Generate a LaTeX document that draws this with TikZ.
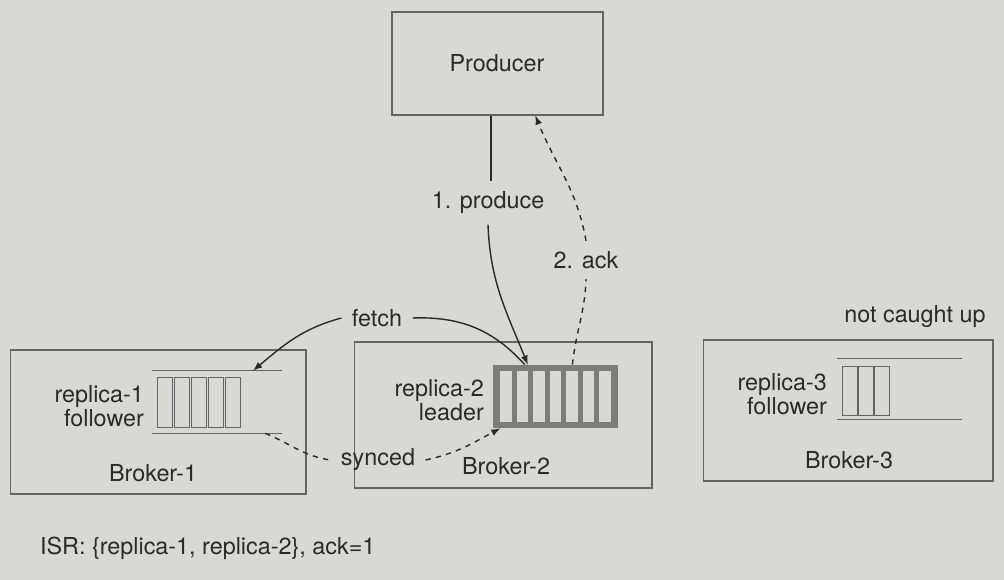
\documentclass[tikz,border=0pt]{standalone}
\usepackage{fontspec}
\setmainfont{TeX Gyre Heros}
\usepackage{tikz}
\usepackage{xcolor}
\definecolor{paper}{RGB}{216,216,212}
\definecolor{ink}{RGB}{42,42,42}
\definecolor{boxgray}{RGB}{100,100,100}
\definecolor{leadgray}{RGB}{124,124,121}
\tikzset{
  broker/.style={draw=boxgray, line width=0.6pt, inner sep=0pt},
  cell/.style={draw=boxgray, line width=0.6pt, inner sep=0pt, minimum width=0.3cm},
  txt/.style={text=ink, inner sep=1pt, font=\fontsize{13.3}{14}\selectfont},
  tag/.style={txt, outer sep=5pt},
  link/.style={draw=ink, line width=0.8pt}
}

\begin{document}
\begin{tikzpicture}[x=0.02cm, y=-0.02cm]
\useasboundingbox[fill=paper] (0,0) rectangle (1004,580);

% Producer and the three brokers
\node[broker, minimum width=4.22cm, minimum height=2.06cm] (prod) at (497.5,63.5) {};
\node[broker, minimum width=5.92cm, minimum height=2.88cm] (b1) at (158,422) {};
\node[broker, minimum width=5.96cm, minimum height=2.92cm] (b2) at (503,415) {};
\node[broker, minimum width=5.80cm, minimum height=2.82cm] (b3) at (848,410.5) {};

\node[txt] (prodlab) at (497,63) {Producer};
\node[txt] (b1lab) at (153,473) {Broker-1};
\node[txt] (b2lab) at (506,466) {Broker-2};
\node[txt] (b3lab) at (849,460) {Broker-3};

% Follower queue of replica-1
\node[inner sep=0pt, minimum width=2.6cm, minimum height=1.24cm] (r1q) at (217,402) {};
\draw[boxgray, line width=0.6pt] (r1q.north west) -- (r1q.north east);
\draw[boxgray, line width=0.6pt] (r1q.south west) -- (r1q.south east);
\foreach \i/\x in {1/157, 2/174, 3/191, 4/208, 5/225} {
    \node[cell, anchor=north west, minimum height=1cm] (ra\i) at (\x,377) {};
}
\node[txt, anchor=east, align=right] (r1lab) at (146,406) {replica-1\\follower};

% Leader queue of replica-2
\node[fill=leadgray, inner sep=0pt, minimum width=2.5cm, minimum height=1.26cm] (lead) at (555.5,396.5) {};
\foreach \i in {1,...,7} {
    \node[fill=paper, inner sep=0pt, anchor=north west, minimum width=0.23cm, minimum height=1.02cm] (rb\i) at ({500+16.5*(\i-1)},371) {};
}
\node[txt, anchor=east, align=right] (r2lab) at (486,400) {replica-2\\leader};

% Follower queue of replica-3
\node[inner sep=0pt, minimum width=2.5cm, minimum height=1.2cm] (r3q) at (899.5,389) {};
\draw[boxgray, line width=0.6pt] (r3q.north west) -- (r3q.north east);
\draw[boxgray, line width=0.6pt] (r3q.south west) -- (r3q.south east);
\foreach \i/\x in {1/842, 2/858, 3/874} {
    \node[cell, anchor=north west, minimum height=0.98cm] (rc\i) at (\x,366) {};
}
\node[txt, anchor=east, align=right] (r3lab) at (829,394) {replica-3\\follower};
\node[txt] (lag) at (915,317) {not caught up};

% produce and ack
\node[tag] (produce) at (488,203) {1. produce};
\node[tag] (ack) at (586,260) {2. ack};
\draw[link] (prod.263) -- (produce.north -| prod.263);
\draw[link, -latex] (produce.south) to[out=-88, in=112] (lead.131);
\draw[link, dashed] (lead.62) to[out=84, in=-92] (ack.south);
\draw[link, dashed, -latex] (ack.north) to[out=100, in=-68] (prod.-54);

% fetch
\node[tag] (fetch) at (377,318) {fetch};
\draw[link, -latex] (fetch.west) to[out=195, in=40] (r1q.41);
\draw[link] (fetch.east) to[out=2, in=132] (lead.134);

% synced
\node[tag] (synced) at (378,460) {synced};
\draw[link, dashed] (r1q.-33) to[out=-22, in=172] (synced.west);
\draw[link, dashed, -latex] (synced.east) to[out=12, in=208] (lead.-150);

\node[txt, anchor=west] (isr) at (38,548) {ISR: \{replica-1, replica-2\}, ack=1};
\end{tikzpicture}
\end{document}
